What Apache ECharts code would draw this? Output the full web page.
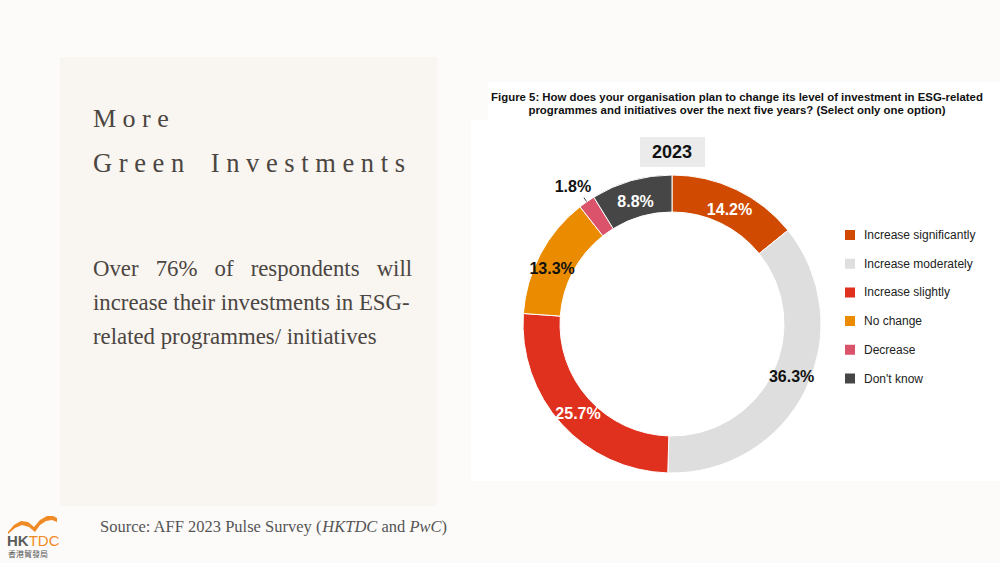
<!DOCTYPE html>
<html><head><meta charset="utf-8">
<script src="https://cdn.jsdelivr.net/npm/echarts@6/dist/echarts.min.js"></script>
<style>html,body{margin:0;padding:0;background:#fcfbfa}#c{width:1000px;height:563px}</style>
</head><body><div id="c"></div>
<script>
const categories = ['Increase significantly','Increase moderately','Increase slightly','No change','Decrease',"Don't know"];
const values = [14.2, 36.3, 25.7, 13.3, 1.8, 8.8];
const colors = ['#d04a02','#dedede','#e0301e','#eb8c00','#db536a','#464646'];
const labelColors = ['#ffffff','#111111','#ffffff','#111111','#111111','#ffffff'];
const labelOffsets = [[0,6],[0,-7],[5,0],[-2,7],[0,0],[0,6]];
const yearLabel = '2023';
const chartTitle = 'Figure 5: How does your organisation plan to change its level of investment in ESG-related\nprogrammes and initiatives over the next five years? (Select only one option)';

const serif = '"Liberation Serif", "DejaVu Serif", serif';
const sans = '"Liberation Sans", Arial, sans-serif';
const textCol = '#4b4641';

const chart = echarts.init(document.getElementById('c'), null, {renderer:'svg'});
const data = categories.map((n,i)=>{
  const outside = values[i] < 5;
  return {
    name:n, value:values[i],
    itemStyle:{color:colors[i]},
    label:{position: outside?'outside':'inside', color:labelColors[i], offset:labelOffsets[i]},
    labelLine:{show:outside, showAbove:true, length:10, length2:0, lineStyle:{color:'#444', width:1}}
  };
});
chart.setOption({
  backgroundColor:'#fcfbfa',
  animation:false,
  graphic:[
    {type:'rect', z:-10, shape:{x:60,y:57,width:377,height:449}, style:{fill:'#f9f5f1'}},
    {type:'rect', z:-10, shape:{x:488,y:82,width:512,height:40}, style:{fill:'#ffffff'}},
    {type:'rect', z:-10, shape:{x:471,y:120,width:529,height:361}, style:{fill:'#ffffff'}},
    {type:'text', x:93, y:105, style:{text:'M o r e', font:'26px '+serif, fill:textCol}},
    {type:'text', x:93, y:149, style:{text:'G r e e n    I n v e s t m e n t s', font:'26.5px '+serif, fill:textCol}},
    {type:'text', x:93, y:257, style:{text:'Over   76%   of   respondents   will', font:'22.8px '+serif, fill:textCol}},
    {type:'text', x:93, y:291, style:{text:'increase their investments in ESG-', font:'22.8px '+serif, fill:textCol}},
    {type:'text', x:93, y:325, style:{text:'related programmes/ initiatives', font:'22.8px '+serif, fill:textCol}},
    {type:'text', x:100, y:518, style:{text:'{n|Source: AFF 2023 Pulse Survey (}{i|HKTDC}{n| and }{i|PwC}{n|)}',
      rich:{n:{font:'16.5px '+serif, fill:'#555'}, i:{font:'italic 16.5px '+serif, fill:'#555'}}}},
    {type:'polygon', shape:{points:[[8,532],[14,525],[21,521],[28,522],[34,527],[40,520],[47,516],[53,516],[57,518],[57,522],[52,520],[46,521],[40,525],[35,532],[29,527],[22,525],[15,528],[8,534]]}, style:{fill:'#f08a24'}},
    {type:'text', x:7, y:533, style:{text:'{a|HK}{b|TDC}', lineHeight:15, rich:{a:{font:'bold 15px '+sans, fill:'#5b5b5b', lineHeight:15}, b:{font:'15px '+sans, fill:'#f08a24', lineHeight:15}}}},
    {type:'text', x:8, y:549, style:{text:'香港貿發局', font:'8px "Noto Sans CJK TC", sans-serif', fill:'#555', lineHeight:9}},
    {type:'text', x:737, y:90, style:{text:chartTitle, font:'bold 11.4px '+sans, fill:'#111', align:'center', lineHeight:13}},
    {type:'rect', shape:{x:640,y:137,width:65,height:30}, style:{fill:'#ebebeb'}},
    {type:'text', x:672, y:152, style:{text:yearLabel, font:'bold 18px '+sans, fill:'#111', align:'center', verticalAlign:'middle'}}
  ],
  legend:{
    orient:'vertical', left:843, top:228, padding:0, itemWidth:12, itemHeight:12, itemGap:14.7, icon:'rect',
    textStyle:{fontSize:12, color:'#222', fontFamily:sans, padding:[0,0,0,3]},
    data:categories
  },
  series:[{
    type:'pie', center:[672,324], radius:[112,149], startAngle:90, clockwise:true,
    avoidLabelOverlap:false,
    itemStyle:{borderColor:'#fff', borderWidth:1},
    label:{formatter:'{c}%', fontSize:16, fontWeight:'bold', fontFamily:sans},
    emphasis:{disabled:true},
    labelLayout:function(p){
      if(!p.labelLinePoints || values[p.dataIndex] >= 5) return {};
      const a = p.labelLinePoints[0], b = p.labelLinePoints[1];
      const dx = b[0]-a[0], dy = b[1]-a[1], L = Math.sqrt(dx*dx+dy*dy) || 1;
      const ux = dx/L, uy = dy/L;
      const s = [a[0]-ux*22, a[1]-uy*22];
      const e = [a[0]+ux*5, a[1]+uy*5];
      return {x:e[0]-11, y:e[1]-11, align:'center', verticalAlign:'middle', labelLinePoints:[s,e,e]};
    },
    data:data
  }]
});
</script></body></html>
